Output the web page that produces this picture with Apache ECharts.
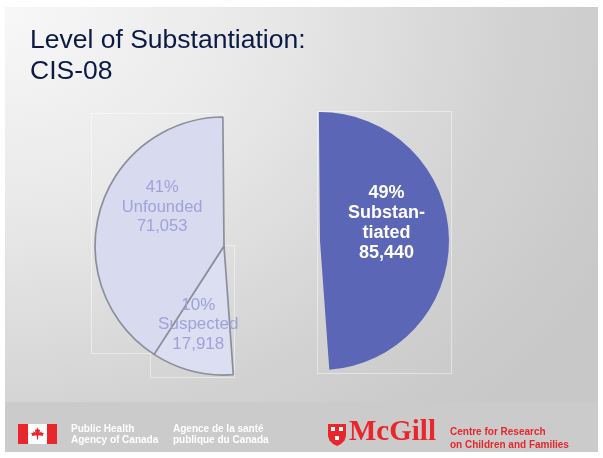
<!DOCTYPE html>
<html>
<head>
<meta charset="utf-8">
<script src="https://cdn.jsdelivr.net/npm/echarts@6/dist/echarts.min.js"></script>
<style>
  html, body { margin: 0; padding: 0; background: #ffffff; width: 603px; height: 458px; overflow: hidden; }
  #bg { position: absolute; left: 5px; top: 7px; width: 593px; height: 395px;
        background: radial-gradient(ellipse 115% 140% at 0% 0%, #f8f8f8 0%, #e8e8e8 38%, #d2d2d2 75%, #c8c8c8 100%); }
  #strip { position: absolute; left: 5px; top: 402px; width: 593px; height: 50px; background: #cbcbcb; }
  #chart { position: absolute; left: 0; top: 0; width: 603px; height: 458px; }
</style>
</head>
<body>
<div id="bg"></div>
<div id="strip"></div>
<div id="chart"></div>
<script>
// ---- data ----
const categories = ['Substantiated', 'Suspected', 'Unfounded'];
const labelNames = ['Substan-\ntiated', 'Suspected', 'Unfounded'];
const values = [85440, 17918, 71053];
// which slices sit in the right-hand (kept) piece and which in the exploded left piece
const rightGroup = ['Substantiated'];
const leftGroup = ['Suspected', 'Unfounded'];

// ---- styles ----
const sliceColors = { Substantiated: '#5b67b6', Suspected: '#dcdef1', Unfounded: '#d8daef' };
const labelStyles = {
  Substantiated: { color: '#ffffff', fontWeight: 'bold', fontSize: 18, lineHeight: 20 },
  Suspected: { color: '#9ea3d8', fontWeight: 'normal', fontSize: 17, lineHeight: 19.5 },
  Unfounded: { color: '#9ea3d8', fontWeight: 'normal', fontSize: 16.5, lineHeight: 19.5 }
};
const labelShift = { Substantiated: [-1, -15], Suspected: [-9, 13], Unfounded: [3, -20] };

function fmt(n) { return n.toLocaleString('en-US'); }

function buildData(group, withBorder) {
  return categories.map((c, i) => {
    const on = group.indexOf(c) >= 0;
    return {
      name: c,
      value: values[i],
      itemStyle: on ? {
        color: sliceColors[c],
        borderColor: withBorder ? '#8e8e9a' : 'rgba(0,0,0,0)',
        borderWidth: withBorder ? 1.7 : 0
      } : { color: 'rgba(0,0,0,0)', borderWidth: 0 },
      label: on ? Object.assign({ show: true }, labelStyles[c]) : { show: false }
    };
  });
}

function pieSeries(center, group, withBorder) {
  return {
    type: 'pie',
    center: center,
    radius: 129,
    startAngle: 90.5,
    clockwise: true,
    animation: false,
    avoidLabelOverlap: false,
    silent: true,
    labelLine: { show: false },
    label: {
      position: 'inside',
      fontFamily: 'Liberation Sans, Arial, sans-serif',
      formatter: p => Math.round(p.percent) + '%\n' + labelNames[p.dataIndex] + '\n' + fmt(p.value)
    },
    labelLayout: p => {
      const s = labelShift[categories[p.dataIndex]];
      return { dx: s[0], dy: s[1] };
    },
    data: buildData(group, withBorder)
  };
}

const chart = echarts.init(document.getElementById('chart'), null, { renderer: 'canvas' });

const leafPts = [[0,-6],[1.2,-3.6],[2.4,-4.2],[1.8,-1.2],[4.2,-2.4],[3.6,-1.2],[6,-0.6],[4.8,0.6],[5.4,1.8],[1.2,1.2],[0.6,1.8],[0.5,5],[-0.5,5],[-0.6,1.8],[-1.2,1.2],[-5.4,1.8],[-4.8,0.6],[-6,-0.6],[-3.6,-1.2],[-4.2,-2.4],[-1.8,-1.2],[-2.4,-4.2],[-1.2,-3.6]];
const shieldPts = [[0,0],[18,0],[18,12],[16.5,16.5],[13,20],[9,22],[5,20],[1.5,16.5],[0,12]];

chart.setOption({
  animation: false,
  title: {
    text: 'Level of Substantiation:\nCIS-08',
    left: 25, top: 20,
    textStyle: { color: '#0b1a45', fontFamily: 'Liberation Sans, Arial, sans-serif', fontSize: 26.5, fontWeight: 'normal', lineHeight: 31 }
  },
  graphic: [
    // faint frames around the pasted pie pieces
    { type: 'rect', shape: { x: 91.5, y: 113.5, width: 132, height: 240 }, style: { fill: 'none', stroke: 'rgba(255,255,255,0.45)', lineWidth: 1 }, z: 0 },
    { type: 'rect', shape: { x: 150.5, y: 245.5, width: 84, height: 132 }, style: { fill: 'none', stroke: 'rgba(255,255,255,0.45)', lineWidth: 1 }, z: 0 },
    { type: 'rect', shape: { x: 317.5, y: 111.5, width: 134, height: 262 }, style: { fill: 'none', stroke: 'rgba(255,255,255,0.45)', lineWidth: 1 }, z: 0 },
    // Canada flag
    { type: 'rect', shape: { x: 18, y: 424, width: 39, height: 20 }, style: { fill: '#ffffff' } },
    { type: 'rect', shape: { x: 18, y: 424, width: 10, height: 20 }, style: { fill: '#e8262b' } },
    { type: 'rect', shape: { x: 47, y: 424, width: 10, height: 20 }, style: { fill: '#e8262b' } },
    { type: 'polygon', shape: { points: leafPts }, x: 37.5, y: 434, scaleX: 1.1, scaleY: 1.1, style: { fill: '#e8262b' } },
    { type: 'text', left: 71, top: 424, style: { text: 'Public Health\nAgency of Canada', fill: '#ffffff', font: 'bold 10px Liberation Sans, Arial, sans-serif', lineHeight: 11 } },
    { type: 'text', left: 173, top: 424, style: { text: 'Agence de la santé\npublique du Canada', fill: '#ffffff', font: 'bold 10px Liberation Sans, Arial, sans-serif', lineHeight: 11 } },
    // McGill
    { type: 'polygon', shape: { points: shieldPts }, x: 328, y: 424, style: { fill: '#e8262b' } },
    { type: 'rect', shape: { x: 331, y: 427, width: 4, height: 4 }, style: { fill: '#ffffff' } },
    { type: 'rect', shape: { x: 339, y: 427, width: 4, height: 4 }, style: { fill: '#ffffff' } },
    { type: 'rect', shape: { x: 335, y: 436, width: 4, height: 4 }, style: { fill: '#ffffff' } },
    { type: 'text', left: 349, top: 418, style: { text: 'McGill', fill: '#e8262b', font: 'bold 29px Liberation Serif, Times New Roman, serif' } },
    { type: 'text', left: 450, top: 426, style: { text: 'Centre for Research\non Children and Families', fill: '#e8262b', font: 'bold 10px Liberation Sans, Arial, sans-serif', lineHeight: 13 } }
  ],
  series: [
    pieSeries([320, 241], rightGroup, false),
    pieSeries([224, 246], leftGroup, true)
  ]
});
</script>
</body>
</html>
